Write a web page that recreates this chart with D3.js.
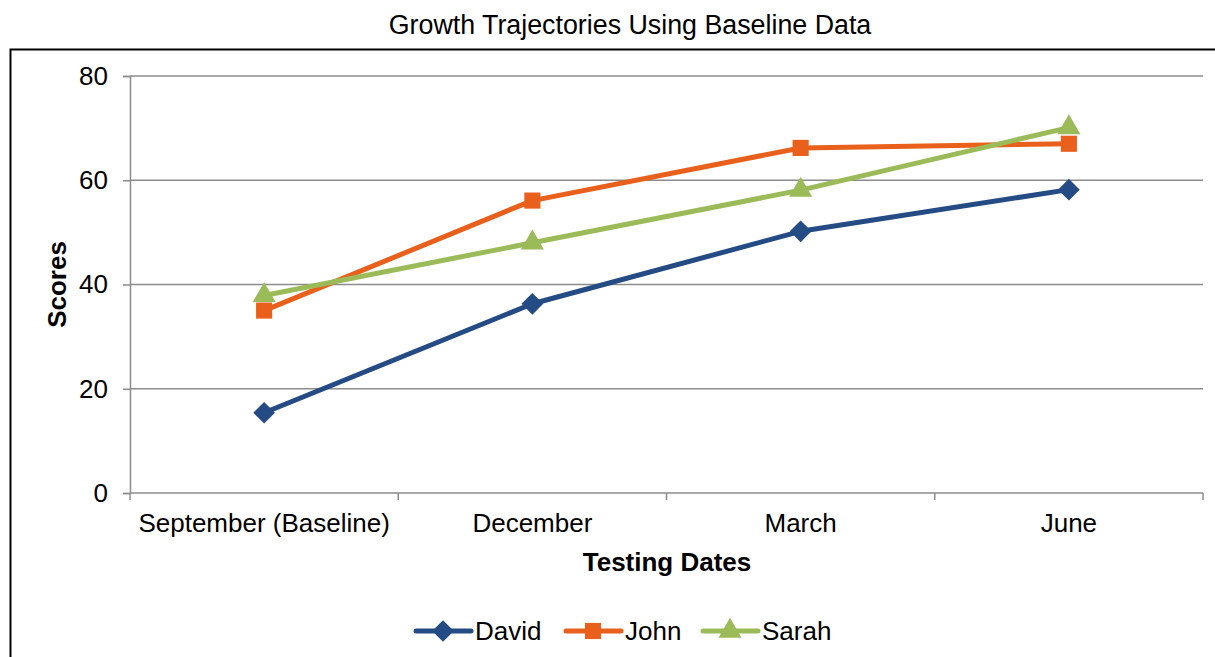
<!DOCTYPE html>
<html>
<head>
<meta charset="utf-8">
<script src="https://cdn.jsdelivr.net/npm/d3@7"></script>
<style>
  body { margin: 0; background: #fff; }
  svg { display: block; font-family: "Liberation Sans", Arial, sans-serif; }
</style>
</head>
<body>
<svg width="1215" height="657"></svg>
<script>
const dates = ["September (Baseline)", "December", "March", "June"];
const david = [15.4, 36.3, 50.2, 58.2];
const john = [35, 56.1, 66.2, 67];
const sarah = [37.9, 48, 58.1, 70.1];
const yTicks = [0, 20, 40, 60, 80];

const series = [
  { name: "David", values: david, color: "#244b84", symbol: d3.symbolDiamond2 },
  { name: "John", values: john, color: "#e8601b", symbol: d3.symbolSquare },
  { name: "Sarah", values: sarah, color: "#9bbb59", symbol: d3.symbolTriangle }
];

const svg = d3.select("svg"),
  width = +svg.attr("width"),
  height = +svg.attr("height");

const margin = { top: 76, right: 12, bottom: 164, left: 130 };
const fs = 26;

// outer frame (right and bottom edges fall outside the picture)
svg.append("rect")
  .attr("x", 10.5).attr("y", 49.5)
  .attr("width", 1300).attr("height", 700)
  .attr("fill", "none").attr("stroke", "#000").attr("stroke-width", 2);

svg.append("text")
  .attr("x", 630).attr("y", 34)
  .attr("text-anchor", "middle")
  .attr("font-size", 26.8)
  .text("Growth Trajectories Using Baseline Data");

const x = d3.scaleBand()
  .domain(dates)
  .range([margin.left, width - margin.right]);

const y = d3.scaleLinear()
  .domain([0, 80])
  .range([height - margin.bottom, margin.top]);

// gridlines
svg.append("g")
  .selectAll("line")
  .data(yTicks.slice(1))
  .join("line")
  .attr("x1", margin.left).attr("x2", width - margin.right)
  .attr("y1", d => y(d)).attr("y2", d => y(d))
  .attr("stroke", "#8c8c8c").attr("stroke-width", 1.5);

// y axis
svg.append("g")
  .attr("transform", `translate(${margin.left},0)`)
  .call(d3.axisLeft(y).tickValues(yTicks).tickSize(7).tickPadding(15))
  .call(g => g.selectAll("path, line").attr("stroke", "#8c8c8c").attr("stroke-width", 1.5))
  .call(g => g.selectAll("text").attr("font-size", fs).attr("fill", "#000").attr("font-family", "Liberation Sans, Arial, sans-serif"));

// x axis: ticks sit on band edges
const xAxisG = svg.append("g")
  .attr("transform", `translate(0,${y(0)})`);
xAxisG.append("line")
  .attr("x1", margin.left).attr("x2", width - margin.right)
  .attr("stroke", "#8c8c8c").attr("stroke-width", 1.5);
const edges = dates.map(d => x(d)).concat([x.range()[1]]);
xAxisG.selectAll(".edge")
  .data(edges)
  .join("line")
  .attr("class", "edge")
  .attr("x1", d => d).attr("x2", d => d)
  .attr("y1", 0).attr("y2", 7)
  .attr("stroke", "#8c8c8c").attr("stroke-width", 1.5);
xAxisG.selectAll(".lbl")
  .data(dates)
  .join("text")
  .attr("class", "lbl")
  .attr("x", d => x(d) + x.bandwidth() / 2)
  .attr("y", 39)
  .attr("text-anchor", "middle")
  .attr("font-size", fs)
  .text(d => d);

// axis titles
svg.append("text")
  .attr("x", 667).attr("y", 571)
  .attr("text-anchor", "middle")
  .attr("font-size", fs).attr("font-weight", "bold")
  .text("Testing Dates");
svg.append("text")
  .attr("transform", `translate(66,${(y(0) + y(80)) / 2}) rotate(-90)`)
  .attr("text-anchor", "middle")
  .attr("font-size", fs).attr("font-weight", "bold")
  .text("Scores");

const cx = d => x(d) + x.bandwidth() / 2;
const line = d3.line()
  .x((v, i) => cx(dates[i]))
  .y(v => y(v));

const sym = s => d3.symbol().type(s.symbol).size(s.symbol === d3.symbolTriangle ? 230 : s.symbol === d3.symbolSquare ? 260 : 300)();

const lines = svg.append("g")
  .selectAll("g")
  .data(series)
  .join("g");

lines.append("path")
  .attr("d", d => line(d.values))
  .attr("fill", "none")
  .attr("stroke", d => d.color)
  .attr("stroke-width", 5)
  .attr("stroke-linejoin", "round")
  .attr("stroke-linecap", "round");

lines.selectAll("path.mk")
  .data(d => d.values.map((v, i) => ({ v, i, s: d })))
  .join("path")
  .attr("class", "mk")
  .attr("d", d => sym(d.s))
  .attr("transform", d => `translate(${cx(dates[d.i])},${y(d.v)})`)
  .attr("fill", d => d.s.color);

// legend
const legendX = [416, 566, 703];
const leg = svg.append("g")
  .selectAll("g")
  .data(series)
  .join("g")
  .attr("transform", (d, i) => `translate(${legendX[i]},631)`);
leg.append("line")
  .attr("x1", 0).attr("x2", 55)
  .attr("stroke", d => d.color).attr("stroke-width", 5)
  .attr("stroke-linecap", "round");
leg.append("path")
  .attr("d", d => sym(d))
  .attr("transform", "translate(27,0)")
  .attr("fill", d => d.color);
leg.append("text")
  .attr("x", 59).attr("y", 9)
  .attr("font-size", fs)
  .text(d => d.name);
</script>
</body>
</html>
